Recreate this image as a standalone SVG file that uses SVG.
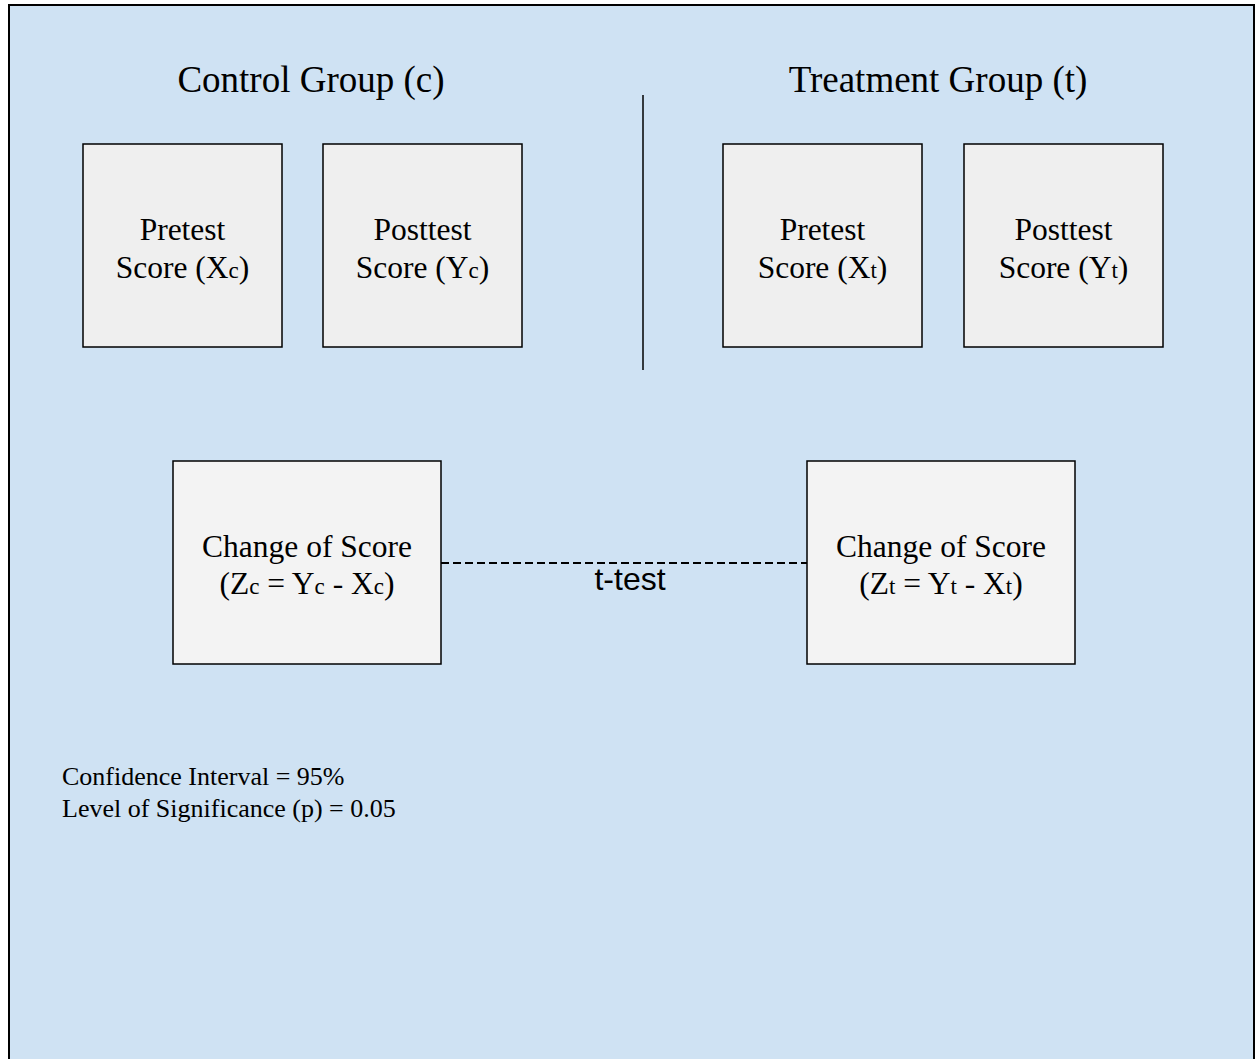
<svg xmlns="http://www.w3.org/2000/svg" width="1256" height="1059" viewBox="0 0 1256 1059">
<style>
.bg{fill:#cfe2f3;stroke:#000;stroke-width:2}
.box{fill:#efefef;stroke:#000;stroke-width:1.5}
.box2{fill:#f3f3f3;stroke:#000;stroke-width:1.5}
.t{font-family:"Liberation Serif",serif;fill:#000;text-anchor:middle}
.s{font-size:23px}
</style>
<rect class="bg" x="9" y="5" width="1245" height="1070"/>
<g id="titles">
<text class="t" x="311" y="92" font-size="37">Control Group (c)</text>
<text class="t" x="938" y="92" font-size="37">Treatment Group (t)</text>
</g>
<g id="divider"><line x1="643" y1="95" x2="643" y2="370" stroke="#000" stroke-width="1.5"/></g>
<g id="pre_c"><rect class="box" x="83" y="144" width="199" height="203"/>
<text class="t" x="182.5" y="240" font-size="31.5">Pretest</text>
<text class="t" x="182.5" y="278" font-size="31.5">Score (X<tspan class="s">c</tspan>)</text></g>
<g id="post_c"><rect class="box" x="323" y="144" width="199" height="203"/>
<text class="t" x="422.5" y="240" font-size="31.5">Posttest</text>
<text class="t" x="422.5" y="278" font-size="31.5">Score (Y<tspan class="s">c</tspan>)</text></g>
<g id="pre_t"><rect class="box" x="723" y="144" width="199" height="203"/>
<text class="t" x="822.5" y="240" font-size="31.5">Pretest</text>
<text class="t" x="822.5" y="278" font-size="31.5">Score (X<tspan class="s">t</tspan>)</text></g>
<g id="post_t"><rect class="box" x="964" y="144" width="199" height="203"/>
<text class="t" x="1063.5" y="240" font-size="31.5">Posttest</text>
<text class="t" x="1063.5" y="278" font-size="31.5">Score (Y<tspan class="s">t</tspan>)</text></g>
<g id="connectors">
<line x1="441" y1="563" x2="807" y2="563" stroke="#000" stroke-width="1.8" stroke-dasharray="8,4"/>
<text x="630" y="590" font-family="Liberation Sans,Arial,sans-serif" font-size="32" text-anchor="middle">t-test</text>
</g>
<g id="change_c"><rect class="box2" x="173" y="461" width="268" height="203"/>
<text class="t" x="307" y="557" font-size="31.5">Change of Score</text>
<text class="t" x="307" y="594" font-size="31.5">(Z<tspan class="s">c</tspan> = Y<tspan class="s">c</tspan> - X<tspan class="s">c</tspan>)</text></g>
<g id="change_t"><rect class="box2" x="807" y="461" width="268" height="203"/>
<text class="t" x="941" y="557" font-size="31.5">Change of Score</text>
<text class="t" x="941" y="594" font-size="31.5">(Z<tspan class="s">t</tspan> = Y<tspan class="s">t</tspan> - X<tspan class="s">t</tspan>)</text></g>
<g id="notes" font-family="Liberation Serif,serif" font-size="26">
<text x="62" y="785">Confidence Interval = 95%</text>
<text x="62" y="817">Level of Significance (p) = 0.05</text>
</g>
</svg>
